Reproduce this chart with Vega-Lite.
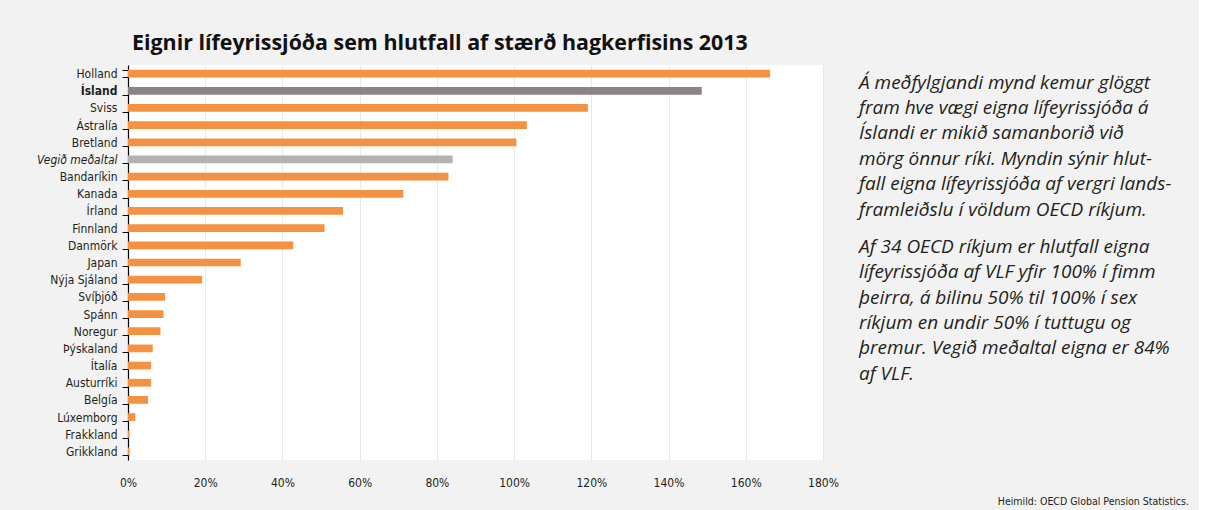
{
  "$schema": "https://vega.github.io/schema/vega-lite/v6.json",
  "background": "#f2f2f2",
  "padding": {"left": 36, "top": 32, "right": 10, "bottom": 5},
  "title": {"text": "Heimild: OECD Global Pension Statistics.", "orient": "bottom", "anchor": "end", "font": "DejaVu Sans Condensed, Roboto, sans-serif", "fontSize": 10.5, "fontWeight": "normal", "color": "#231f20", "offset": 9},
  "datasets": {
    "lond": [
      {"land": "Holland", "hlutfall": 166.3, "hopur": "OECD"},
      {"land": "Ísland", "hlutfall": 148.6, "hopur": "Ísland"},
      {"land": "Sviss", "hlutfall": 119.1, "hopur": "OECD"},
      {"land": "Ástralía", "hlutfall": 103.3, "hopur": "OECD"},
      {"land": "Bretland", "hlutfall": 100.6, "hopur": "OECD"},
      {"land": "Vegið meðaltal", "hlutfall": 84.1, "hopur": "Meðaltal"},
      {"land": "Bandaríkin", "hlutfall": 83.0, "hopur": "OECD"},
      {"land": "Kanada", "hlutfall": 71.3, "hopur": "OECD"},
      {"land": "Írland", "hlutfall": 55.7, "hopur": "OECD"},
      {"land": "Finnland", "hlutfall": 50.9, "hopur": "OECD"},
      {"land": "Danmörk", "hlutfall": 42.8, "hopur": "OECD"},
      {"land": "Japan", "hlutfall": 29.2, "hopur": "OECD"},
      {"land": "Nýja Sjáland", "hlutfall": 19.2, "hopur": "OECD"},
      {"land": "Svíþjóð", "hlutfall": 9.6, "hopur": "OECD"},
      {"land": "Spánn", "hlutfall": 9.2, "hopur": "OECD"},
      {"land": "Noregur", "hlutfall": 8.4, "hopur": "OECD"},
      {"land": "Þýskaland", "hlutfall": 6.4, "hopur": "OECD"},
      {"land": "Ítalía", "hlutfall": 6.0, "hopur": "OECD"},
      {"land": "Austurríki", "hlutfall": 6.0, "hopur": "OECD"},
      {"land": "Belgía", "hlutfall": 5.2, "hopur": "OECD"},
      {"land": "Lúxemborg", "hlutfall": 1.9, "hopur": "OECD"},
      {"land": "Frakkland", "hlutfall": 0.4, "hopur": "OECD"},
      {"land": "Grikkland", "hlutfall": 0.4, "hopur": "OECD"}
    ],
    "texti": [
      {"lina": 1, "texti": "Á meðfylgjandi mynd kemur glöggt"},
      {"lina": 2, "texti": "fram hve vægi eigna lífeyrissjóða á"},
      {"lina": 3, "texti": "Íslandi er mikið samanborið við"},
      {"lina": 4, "texti": "mörg önnur ríki. Myndin sýnir hlut-"},
      {"lina": 5, "texti": "fall eigna lífeyrissjóða af vergri lands-"},
      {"lina": 6, "texti": "framleiðslu í völdum OECD ríkjum."},
      {"lina": 7.47, "texti": "Af 34 OECD ríkjum er hlutfall eigna"},
      {"lina": 8.47, "texti": "lífeyrissjóða af VLF yfir 100% í fimm"},
      {"lina": 9.47, "texti": "þeirra, á bilinu 50% til 100% í sex"},
      {"lina": 10.47, "texti": "ríkjum en undir 50% í tuttugu og"},
      {"lina": 11.47, "texti": "þremur. Vegið meðaltal eigna er 84%"},
      {"lina": 12.47, "texti": "af VLF."}
    ]
  },
  "spacing": 20,
  "hconcat": [
    {
      "data": {"name": "lond"},
      "width": 695,
      "height": 395,
      "view": {"fill": "#ffffff", "stroke": null},
      "title": {"text": "Eignir lífeyrissjóða sem hlutfall af stærð hagkerfisins 2013", "anchor": "start", "frame": "group", "font": "Open Sans", "fontSize": 21.4, "fontWeight": "bold", "color": "#111111", "offset": 5, "dx": 4},
      "mark": {"type": "bar"},
      "encoding": {
        "y": {
          "field": "land", "type": "nominal", "sort": null,
          "scale": {"paddingInner": 0.55, "paddingOuter": 0.275},
          "axis": {
            "title": null, "grid": false,
            "domainColor": "#000000", "domainWidth": 1.2,
            "tickColor": "#000000", "tickSize": 6, "tickBand": "extent",
            "labelPadding": 5, "labelFont": "DejaVu Sans Condensed, Roboto, sans-serif", "labelFontSize": 12, "labelColor": "#231f20",
            "labelFontWeight": {"condition": {"test": "datum.value === 'Ísland'", "value": "bold"}, "value": "normal"},
            "labelFontStyle": {"condition": {"test": "datum.value === 'Vegið meðaltal'", "value": "italic"}, "value": "normal"},
            "labelExpr": "datum.value === 'Vegið meðaltal' ? datum.value + '\u00a0\u00a0' : datum.value"
          }
        },
        "x": {
          "field": "hlutfall", "type": "quantitative",
          "scale": {"domain": [0, 180], "nice": false},
          "axis": {
            "title": null, "values": [0, 20, 40, 60, 80, 100, 120, 140, 160, 180],
            "labelExpr": "datum.value + '%'", "labelFlush": false,
            "domain": false, "ticks": false, "tickSize": 0,
            "grid": true, "gridColor": "#e8e8e8", "gridWidth": 1,
            "labelPadding": 17, "labelFont": "DejaVu Sans Condensed, Roboto, sans-serif", "labelFontSize": 12, "labelColor": "#231f20"
          }
        },
        "color": {
          "field": "hopur", "type": "nominal",
          "scale": {"domain": ["OECD", "Ísland", "Meðaltal"], "range": ["#f39242", "#8a8584", "#b3b3b3"]},
          "legend": null
        }
      }
    },
    {
      "data": {"name": "texti"},
      "width": 330,
      "height": 319,
      "view": {"stroke": null},
      "mark": {"type": "text", "align": "left", "baseline": "middle", "font": "Open Sans", "fontSize": 19, "fontStyle": "italic", "color": "#231f20"},
      "encoding": {
        "text": {"field": "texti"},
        "y": {"field": "lina", "type": "quantitative", "scale": {"domain": [0.31, 12.87], "reverse": true, "nice": false, "zero": false}, "axis": null},
        "x": {"datum": 0, "type": "quantitative", "scale": {"domain": [0, 1]}, "axis": null}
      }
    }
  ],
  "config": {"view": {"stroke": null}}
}
